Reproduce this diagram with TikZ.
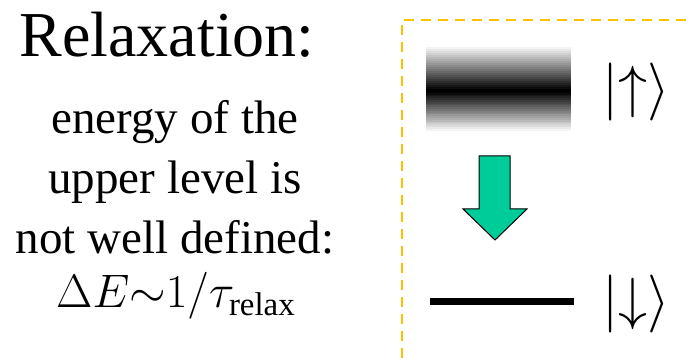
\documentclass[tikz,border=0pt]{standalone}
\usepackage{fix-cm}
\usepackage{fontspec}
\setmainfont{Liberation Serif}

\definecolor{framegold}{HTML}{FFC000}
\definecolor{decaygreen}{HTML}{00CC99}

\begin{document}
\begin{tikzpicture}[
    x=0.5pt, y=0.5pt,
    heading/.style={font=\fontsize{32}{35}\selectfont, inner sep=0pt},
    body/.style={font=\fontsize{23.5}{30}\selectfont, align=center, inner sep=0pt},
    ket/.style={font=\fontsize{29}{30}\selectfont, inner sep=0pt},
    frame/.style={framegold, line width=1.25pt, dash pattern=on 5pt off 3.5pt},
    level/.style={line width=3.5pt}
]
\useasboundingbox (0,0) rectangle (691,358);

% Left: explanation
\node[heading, anchor=base] (T) at (167,301) {Relaxation:};
\node[body, anchor=north] (D) at (175,258) {energy of the\\ upper level is\\ not well defined:};
\node[body, anchor=base] (F) at (176,50) {$\Delta E{\sim}1/\tau_{\mathrm{relax}}$};

% Frame
\draw[frame] (402,0) -- (402,338) -- (691,338);

% Upper level (broadened): strips fading out from the centre
\coordinate (UL) at (426,267);
\coordinate (UR) at (571,267);
\foreach \k in {0,...,21}{
    \pgfmathsetmacro\darkness{100-100*\k/22}
    \fill[black!\darkness] (426,{267+2*\k}) rectangle (571,{269.3+2*\k});
    \fill[black!\darkness] (426,{267-1.8*\k}) rectangle (571,{264.9-1.8*\k});
}
\draw[line width=0.75pt] (UL) -- (UR);
\node[ket] (up) at (636,266) {$|{\uparrow}\rangle$};

% Lower level
\coordinate (LL) at (430,56);
\coordinate (LR) at (574,56);
\draw[level] (LL) -- (LR);
\node[ket] (down) at (636,54) {$|{\downarrow}\rangle$};

% Decay arrow
\draw[fill=decaygreen, line width=0.5pt, line join=miter]
    (479,202) -- (510,202) -- (510,149) -- (527,149) -- (495,118)
    -- (463,149) -- (479,149) -- cycle;

\end{tikzpicture}
\end{document}
